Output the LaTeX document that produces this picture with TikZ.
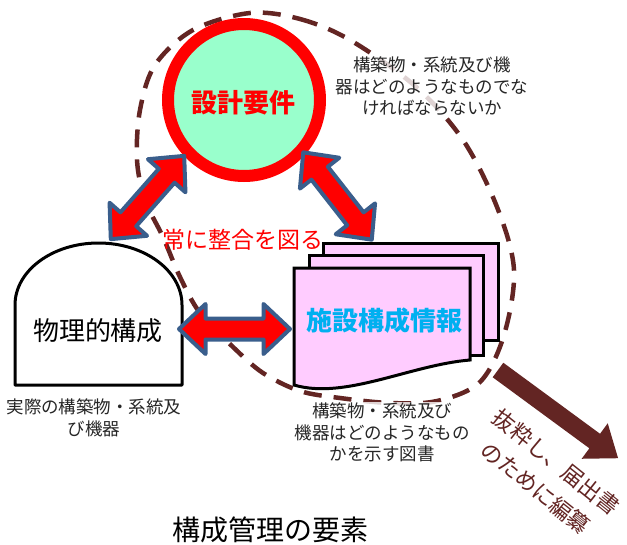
\documentclass[tikz,border=0pt]{standalone}
\usepackage{fontspec}
\setmainfont{Noto Sans CJK JP}
\definecolor{brn}{RGB}{99,37,35}
\definecolor{arrblue}{RGB}{58,94,140}
\definecolor{mint}{RGB}{153,255,204}
\definecolor{pinkdoc}{RGB}{255,204,255}
\definecolor{cyantext}{RGB}{0,176,240}
\begin{document}
\begin{tikzpicture}[x=1pt,y=-1pt,
  dblarrow/.pic={\draw[line width=4pt,draw=arrblue,fill=red,line join=round]
     (-55.5,0) -- (-29,-25) -- (-29,-10.5) -- (29,-10.5) -- (29,-25) -- (55.5,0)
     -- (29,25) -- (29,10.5) -- (-29,10.5) -- (-29,25) -- cycle;},
  bigarrow/.pic={\fill[brn] (0,-9) -- (120,-9) -- (120,-22) -- (149,0) -- (120,22) -- (120,9) -- (0,9) -- cycle;},
  boundary/.style={draw=brn,line width=4.5pt,dash pattern=on 18pt off 12pt},
  docpage/.style={draw=black,line width=3pt,fill=pinkdoc,line join=miter},
  note/.style={inner sep=1pt,align=center,font=\fontsize{17.5}{21.5}\selectfont,text=black!85},
  veil/.style={fill=white,fill opacity=0.8,text opacity=1}]
\useasboundingbox (0,0) rectangle (627,544);
\fill[white] (0,0) rectangle (627,544);

% dashed boundary of configuration management
\draw[boundary] plot[smooth cycle,tension=0.55] coordinates {
  (250,13) (300,19) (350,40) (415,86) (463,140) (497,207) (514,270) (504,335)
  (480,382) (437,401) (390,403) (340,398) (300,391) (263,373) (233,347)
  (200,313) (180,277) (163,237) (145,200) (137,160) (140,110) (155,65) (193,30)};

\node[note,veil] (reqnote) at (432,86.5) {構築物・系統及び機\\器はどのようなものでな\\ければならないか};

% design requirements
\node[circle,draw=red,line width=12pt,fill=mint,minimum size=152pt,inner sep=0] (req) at (244,100) {};
\node[text=red,font=\bfseries\fontsize{26}{26}\selectfont] (reqtext) at (243.5,103) {設計要件};

% physical configuration
\draw[black,line width=3pt,fill=white,line join=round]
  (15,385) -- (15,305) arc[start angle=180,end angle=360,x radius=83.5,y radius=62] -- (182,385) -- cycle;
\node[font=\fontsize{26}{26}\selectfont] (phys) at (98,331) {物理的構成};
\node[note] (physnote) at (94,418) {実際の構築物・系統及\\び機器};

% facility configuration information (multi document)
\draw[docpage] (323,243) rectangle (498,340);
\draw[docpage] (309,255) rectangle (483,355);
\draw[docpage] (294,268) -- (470,268) -- (470,360) .. controls (410,365) and (345,400) .. (294,385) -- cycle;
\node[text=cyantext,font=\bfseries\fontsize{26}{26}\selectfont] (info) at (384.5,321) {施設構成情報};
\node[note,veil] (infonote) at (382,432.5) {構築物・系統及び\\機器はどのようなもの\\かを示す図書};

% consistency arrows
\pic[rotate=48.6] (a1) at (147.5,197.5) {dblarrow};
\pic[rotate=-51.9] (a2) at (337.5,196) {dblarrow};
\pic (a3) at (234.5,329) {dblarrow};
\node[text=red,font=\fontsize{23}{23}\selectfont] (cons) at (242.5,240) {常に整合を図る};

% extraction arrow
\pic[rotate=-36.3] (ex) at (498,370) {bigarrow};
\node[text=brn,align=center,rotate=-38.6,font=\fontsize{22}{33}\selectfont] (extxt) at (546,475) {抜粋し、届出書\\のために編纂};

% title
\node[font=\fontsize{28}{28}\selectfont] (title) at (270,530) {構成管理の要素};
\end{tikzpicture}
\end{document}
